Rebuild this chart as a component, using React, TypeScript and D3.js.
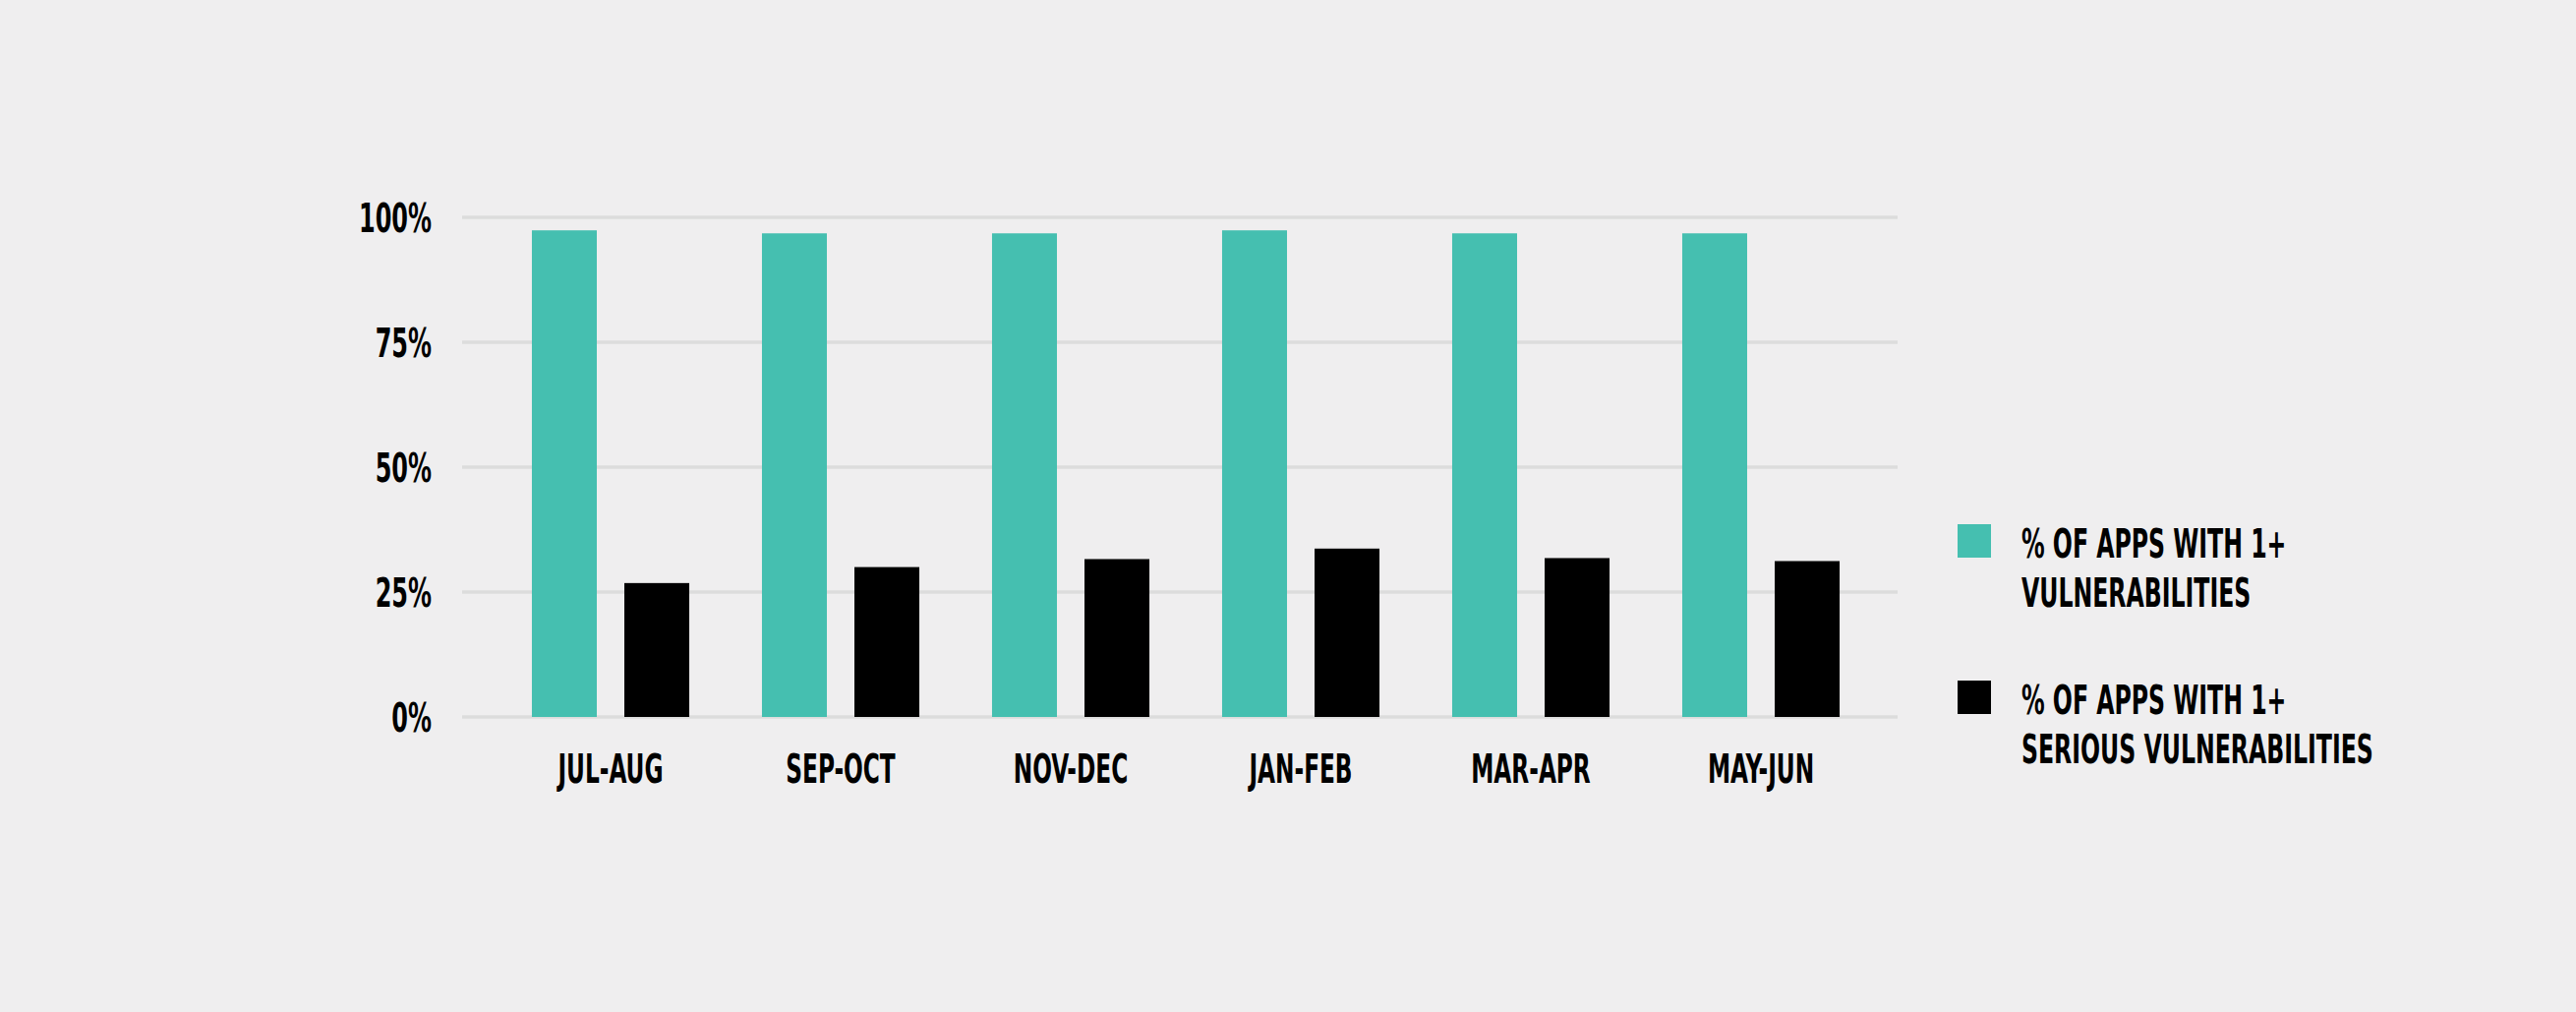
import React from "react";
import * as d3 from "d3";

const categories = ["JUL-AUG", "SEP-OCT", "NOV-DEC", "JAN-FEB", "MAR-APR", "MAY-JUN"];
const seriesKeys = ["any", "serious"];
const seriesLabels = [
  ["% OF APPS WITH 1+", "VULNERABILITIES"],
  ["% OF APPS WITH 1+", "SERIOUS VULNERABILITIES"],
];
const anyVuln = [97.4, 96.8, 96.8, 97.4, 96.8, 96.8];
const seriousVuln = [26.8, 30.0, 31.6, 33.7, 31.8, 31.2];
const yTicks = [0, 25, 50, 75, 100];

const W = 2620;
const H = 1029;
const BG = "#efeeef";
const TEAL = "#45bfb0";
const BLACK = "#000000";
const GRID = "#dcdcdc";
const FONT = "'Liberation Sans Narrow', 'DejaVu Sans Condensed', 'Arial Narrow', 'Liberation Sans', sans-serif";

export default function App() {
  React.useEffect(() => {
    document.body.style.margin = "0";
    document.body.style.background = BG;
  }, []);

  const y = d3.scaleLinear().domain([0, 100]).range([729, 221]);
  const x = d3
    .scaleBand<string>()
    .domain(categories)
    .range([504, 1908])
    .paddingInner(0.316)
    .paddingOuter(0.158);
  const xs = d3
    .scaleBand<string>()
    .domain(seriesKeys)
    .range([0, x.bandwidth()])
    .paddingInner(0.298)
    .paddingOuter(0);
  const color = d3.scaleOrdinal<string, string>().domain(seriesKeys).range([TEAL, BLACK]);
  const values: Record<string, number[]> = { any: anyVuln, serious: seriousVuln };

  const gridX0 = 470;
  const gridX1 = 1930;
  const sxTick = 0.63;
  const sxY = 0.65;
  const sxLeg = 0.64;

  return (
    <svg
      width={W}
      height={H}
      style={{ position: "absolute", left: 0, top: 0, background: BG }}
    >
      <rect x={0} y={0} width={W} height={H} fill={BG} />
      {yTicks.map((t) => (
        <g key={t}>
          <line x1={gridX0} x2={gridX1} y1={y(t)} y2={y(t)} stroke={GRID} strokeWidth={3.5} />
          <text
            transform={`translate(439,${y(t) + 15}) scale(${sxY},1)`}
            textAnchor="end"
            fontFamily={FONT}
            fontWeight="bold"
            fontSize={41}
            fill="#000"
          >
            {t}%
          </text>
        </g>
      ))}
      {categories.map((c, i) => (
        <g key={c} transform={`translate(${x(c)},0)`}>
          {seriesKeys.map((k) => (
            <rect
              key={k}
              x={xs(k)}
              y={y(values[k][i])}
              width={xs.bandwidth()}
              height={y(0) - y(values[k][i])}
              fill={color(k)}
            />
          ))}
          <text
            transform={`translate(${x.bandwidth() / 2},796) scale(${sxTick},1)`}
            textAnchor="middle"
            fontFamily={FONT}
            fontWeight="bold"
            fontSize={41}
            fill="#000"
          >
            {c}
          </text>
        </g>
      ))}
      {seriesKeys.map((k, i) => {
        const top = i === 0 ? 533 : 692;
        return (
          <g key={k}>
            <rect x={1991} y={top} width={34} height={34} fill={color(k)} />
            {seriesLabels[i].map((line, j) => (
              <text
                key={j}
                transform={`translate(2056,${top + 34 + j * 50}) scale(${sxLeg},1)`}
                fontFamily={FONT}
                fontWeight="bold"
                fontSize={41}
                fill="#000"
              >
                {line}
              </text>
            ))}
          </g>
        );
      })}
    </svg>
  );
}
